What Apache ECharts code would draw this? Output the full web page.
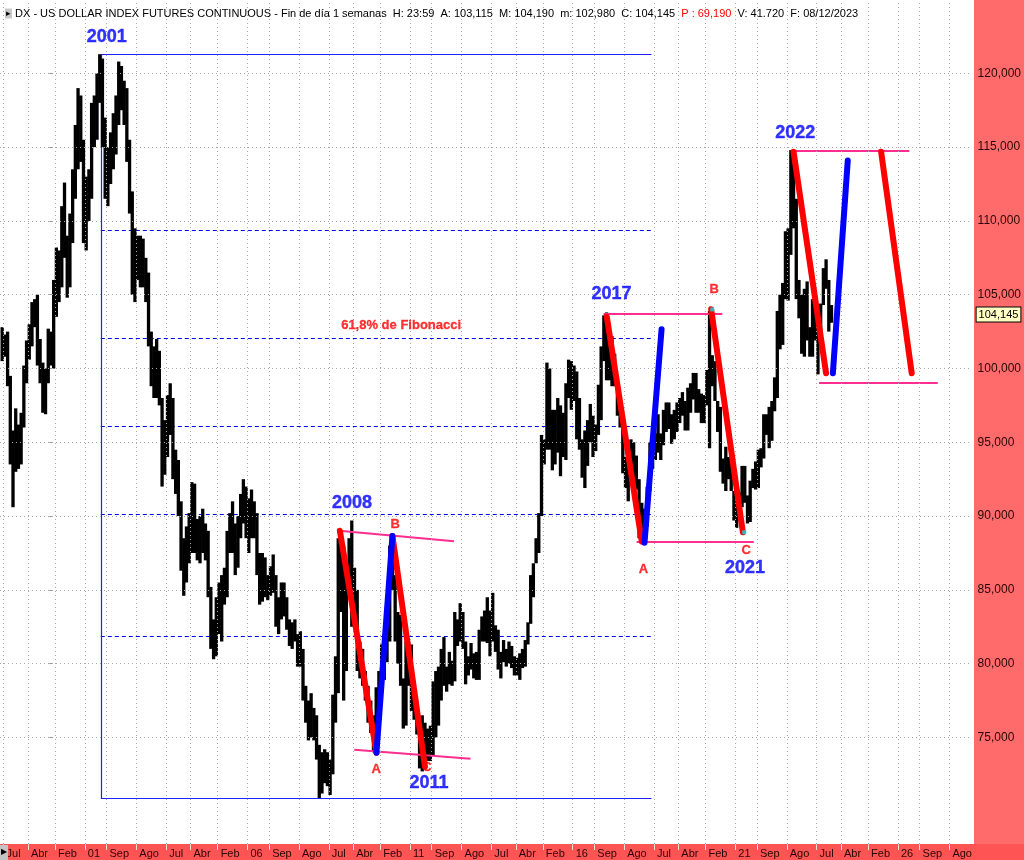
<!DOCTYPE html>
<html>
<head>
<meta charset="utf-8">
<title>DX - US Dollar Index</title>
<script src="https://cdn.jsdelivr.net/npm/echarts@6.0.0/dist/echarts.min.js"></script>
<style>
  html, body { margin: 0; padding: 0; background: #fff; }
  #chart { width: 1024px; height: 860px; }
</style>
</head>
<body>
<div id="chart"></div>
<script>
  // meses contados desde ene-2000 (ene-2001 = 12)
  const START_MONTH = -19; // jun-1998
  const FONT = "'Liberation Sans', Arial, sans-serif";

  // [mínimo, máximo] mensual
  const y1998 = [[100.5,102.8],[100.8,102.3],[98.8,102.5],[93.5,99.5],[90.6,95.8],[93.0,97.3],[93.2,96.2]];
  const y1999 = [[93.5,97.0],[96.0,100.2],[99.0,101.9],[100.6,103.0],[101.5,104.5],[102.8,104.7],[100.2,105.0],[99.0,102.0],[97.0,100.4],[96.9,100.0],[99.0,102.7],[100.2,102.5]];
  const y2000 = [[100.0,106.0],[103.5,108.2],[104.5,108.0],[105.5,111.0],[107.5,112.6],[104.8,109.0],[105.5,110.5],[108.5,113.5],[111.5,116.5],[113.5,119.0],[114.0,118.5],[108.5,115.5]];
  const y2001 = [[108.0,113.0],[110.0,113.5],[111.5,118.0],[115.0,118.5],[115.5,120.0],[118.0,121.3],[115.0,121.0],[111.5,117.0],[111.0,115.0],[112.5,116.0],[113.5,117.3],[114.5,118.5]];
  const y2002 = [[116.5,120.8],[117.5,120.5],[116.5,119.5],[114.0,119.0],[110.5,115.5],[105.0,112.0],[104.5,109.5],[106.0,109.0],[105.5,109.0],[105.5,108.8],[104.5,107.5],[101.5,106.5]];
  const y2003 = [[98.8,102.5],[98.0,101.5],[98.0,102.0],[97.5,101.2],[92.0,98.0],[92.8,96.5],[94.0,98.2],[95.5,99.0],[92.5,98.0],[91.5,94.5],[90.0,93.8],[86.3,91.0]];
  const y2004 = [[84.6,88.5],[85.5,89.3],[86.8,90.2],[87.5,92.3],[87.5,92.2],[87.0,89.8],[86.8,90.0],[87.5,90.5],[87.0,89.5],[84.5,89.0],[81.0,85.2],[80.3,83.0]];
  const y2005 = [[80.5,84.5],[82.0,85.5],[81.5,86.0],[84.0,86.5],[84.5,89.0],[87.5,90.2],[87.5,91.0],[86.0,89.5],[86.5,90.0],[88.5,91.5],[89.5,92.5],[88.5,92.0]];
  const y2006 = [[87.5,91.2],[88.5,91.8],[88.5,91.0],[86.0,90.2],[84.0,87.5],[84.2,87.5],[84.5,87.2],[84.3,86.0],[84.6,86.6],[84.8,87.4],[82.5,86.0],[82.0,84.5]];
  const y2007 = [[83.0,85.5],[83.2,85.5],[82.3,84.5],[81.2,83.0],[81.0,82.8],[81.5,83.0],[79.8,82.0],[79.8,82.2],[77.5,81.0],[76.0,78.5],[74.8,77.5],[75.0,78.0]];
  const y2008 = [[74.8,77.0],[73.5,76.5],[70.9,74.5],[71.2,74.0],[71.9,74.2],[71.7,74.0],[71.1,73.5],[72.5,77.9],[76.0,80.5],[78.0,88.5],[83.5,89.0],[77.5,88.0]];
  const y2009 = [[79.5,86.5],[84.5,88.5],[82.5,89.7],[82.5,86.5],[79.5,85.0],[79.0,81.5],[78.5,81.0],[77.5,79.5],[76.0,78.5],[75.3,77.5],[74.0,76.5],[74.5,78.4]];
  const y2010 = [[76.5,79.5],[78.8,81.3],[78.9,82.0],[80.1,83.0],[81.5,88.0],[85.0,88.8],[81.5,86.0],[80.0,83.5],[78.5,83.3],[75.6,79.0],[75.8,81.5],[78.5,81.5]];
  const y2011 = [[76.8,81.3],[76.2,78.5],[75.2,77.5],[72.9,76.2],[72.7,76.5],[73.5,76.0],[73.4,75.6],[73.4,75.8],[73.8,78.8],[75.0,79.5],[75.8,79.8],[77.5,81.0]];
  const y2012 = [[78.5,81.8],[78.1,79.8],[78.6,80.8],[78.5,80.2],[78.8,83.5],[81.2,83.0],[81.5,84.1],[81.0,83.5],[78.6,81.5],[79.2,80.5],[79.6,81.4],[79.0,80.7]];
  const y2013 = [[78.9,80.8],[78.9,82.3],[81.5,83.2],[81.5,83.6],[81.4,84.5],[80.5,83.6],[81.5,84.8],[80.8,82.6],[79.6,82.3],[79.0,80.8],[80.1,81.6],[79.8,81.0]];
  const y2014 = [[80.0,81.5],[79.7,81.2],[79.2,80.5],[79.2,80.4],[78.9,80.7],[79.7,81.0],[79.8,81.6],[81.3,82.8],[82.7,86.0],[84.5,86.8],[86.8,88.5],[87.5,90.2]];
  const y2015 = [[90.0,95.5],[93.5,95.2],[94.5,100.4],[94.5,100.0],[93.1,97.2],[93.5,97.2],[94.3,98.0],[92.7,97.5],[94.0,97.0],[93.8,99.0],[98.0,100.6],[97.2,100.5]];
  const y2016 = [[97.8,100.2],[95.2,99.8],[94.5,98.0],[92.6,95.2],[91.9,95.8],[93.4,96.5],[95.0,97.6],[94.0,96.8],[94.4,96.2],[95.5,98.9],[96.5,101.5],[100.5,103.6]];
  const y2017 = [[99.2,103.8],[99.2,101.7],[98.8,102.2],[98.8,101.0],[96.8,99.5],[96.0,97.9],[92.9,96.4],[91.9,94.0],[91.0,94.0],[92.8,95.2],[92.5,95.0],[91.8,94.1]];
  const y2018 = [[88.5,92.5],[88.3,90.9],[88.9,90.5],[89.3,92.0],[91.7,95.0],[93.2,95.5],[93.8,95.6],[94.3,96.9],[93.8,95.6],[94.8,97.2],[95.7,97.7],[95.9,97.7]];
  const y2019 = [[94.9,96.9],[95.2,97.2],[95.7,97.7],[96.3,98.0],[96.8,98.4],[95.8,97.8],[95.8,98.7],[97.0,99.0],[97.9,99.7],[97.0,99.7],[97.0,98.6],[96.3,98.3]];
  const y2020 = [[96.3,98.2],[97.5,99.9],[94.6,103.9],[98.8,100.9],[97.8,100.5],[95.7,97.8],[93.0,97.4],[92.2,93.9],[91.7,94.7],[92.5,94.0],[91.7,94.3],[89.7,91.7]];
  const y2021 = [[89.2,91.0],[89.7,91.6],[90.6,93.4],[90.9,93.4],[89.5,91.4],[89.6,92.4],[91.9,93.2],[91.8,93.7],[91.9,94.5],[93.3,94.6],[93.9,96.9],[95.5,96.9]];
  const y2022 = [[94.6,97.4],[95.1,97.8],[97.1,99.4],[98.0,103.9],[101.3,105.0],[101.6,105.8],[104.7,109.3],[104.6,109.5],[107.7,114.8],[109.5,113.9],[104.7,111.5],[103.4,106.0]];
  const y2023 = [[101.0,105.0],[100.8,105.4],[101.9,105.9],[100.8,102.8],[100.8,104.7],[101.9,104.5],[99.6,103.6],[101.7,104.4],[104.3,106.8],[105.4,107.4],[102.5,106.0],[103.1,104.3]];

  const priceYears = [y1998, y1999, y2000, y2001, y2002, y2003, y2004, y2005, y2006, y2007, y2008,
    y2009, y2010, y2011, y2012, y2013, y2014, y2015, y2016, y2017, y2018, y2019, y2020, y2021, y2022, y2023];
  const lastPrice = 104.145;

  // etiquetas del eje de tiempo [mes, texto]
  const xTicks = [[-18,'Jul'],[-9,'Abr'],[1,'Feb'],[12,'01'],[20,'Sep'],[31,'Ago'],[42,'Jul'],[51,'Abr'],[61,'Feb'],
    [72,'06'],[80,'Sep'],[91,'Ago'],[102,'Jul'],[111,'Abr'],[121,'Feb'],[132,'11'],[140,'Sep'],[151,'Ago'],
    [162,'Jul'],[171,'Abr'],[181,'Feb'],[192,'16'],[200,'Sep'],[211,'Ago'],[222,'Jul'],[231,'Abr'],[241,'Feb'],
    [252,'21'],[260,'Sep'],[271,'Ago'],[282,'Jul'],[291,'Abr'],[301,'Feb'],[312,'26'],[320,'Sep'],[331,'Ago']];
  const priceTicks = [75, 80, 85, 90, 95, 100, 105, 110, 115, 120];

  // caja azul 2001-2008 y niveles de Fibonacci
  const boxStart = 17.9, boxEnd = 221.1;
  const boxTop = 121.31, boxBottom = 70.9;
  const fibLevels = [109.37, 102.05, 96.08, 90.12, 81.86];

  // líneas rosas (canales), ondas rojas y azules
  const pinkLines = [
    [[105.85, 89.01], [148.2, 88.29]],
    [[111.4, 74.16], [154.3, 73.55]],
    [[203.4, 103.74], [247.2, 103.74]],
    [[215.6, 88.27], [258.8, 88.27]],
    [[272.7, 114.76], [316.2, 114.76]],
    [[282.9, 99.04], [326.7, 99.04]]
  ];
  const redWaves = [
    [[106.1, 89.01], [119.6, 73.96]],
    [[125.5, 88.65], [137.5, 73.02]],
    [[204.6, 103.51], [217.5, 88.27]],
    [[243.1, 104.01], [254.8, 88.9]],
    [[273.5, 114.69], [285.5, 99.68]],
    [[305.8, 114.69], [317.1, 99.68]]
  ];
  const blueWaves = [
    [[119.6, 73.96], [125.5, 88.65]],
    [[218.5, 88.2], [224.8, 102.66]],
    [[288.0, 99.68], [293.5, 114.1]]
  ];
  const cyanMarks = [[243.5, 104.0], [255.3, 88.9]];

  const yearLabels = [['2001', 20.1, 122.46], ['2008', 110.6, 90.89], ['2011', 139.0, 71.92],
    ['2017', 206.3, 105.05], ['2021', 255.6, 86.45], ['2022', 274.1, 115.96]];
  const waveLabels = [['B', 126.5, 89.41], ['A', 119.5, 72.81], ['C', 138.2, 72.94],
    ['A', 218.1, 86.36], ['B', 244.2, 105.39], ['C', 256.0, 87.64]];
  const fibText = ['61,8% de Fibonacci', 128.7, 102.95];

  let priceBars = [];
  let month = START_MONTH;
  priceYears.forEach((yr) => {
    yr.forEach((hl) => {
      priceBars.push([month + 0.5, hl[0], hl[1]]);
      month++;
    });
  });

  const tickText = {};
  xTicks.forEach((t) => { tickText[t[0]] = t[1]; });
  const fmtPrice = (v) => v.toFixed(3).replace('.', ',');

  const boxLines = [
    [[boxStart, boxTop], [boxEnd, boxTop]],
    [[boxStart, boxBottom], [boxEnd, boxBottom]],
    [[boxStart, boxTop], [boxStart, boxBottom]]
  ];
  const fibLines = fibLevels.map((v) => [[boxStart, v], [boxEnd, v]]);

  const toLabel = (list) => list.map((l) => ({ name: l[0], value: [l[1], l[2]] }));
  const segSeries = (segs, z, lineStyle) => ({
    type: 'lines',
    coordinateSystem: 'cartesian2d',
    z: z,
    silent: true,
    lineStyle: Object.assign({ opacity: 1 }, lineStyle),
    data: segs.map((c) => ({ coords: c }))
  });

  const chart = echarts.init(document.getElementById('chart'));
  const option = {
    animation: false,
    textStyle: { fontFamily: FONT },
    title: {
      text: '{tri|▸} DX - US DOLLAR INDEX FUTURES CONTINUOUS - Fin de día 1 semanas  H: 23:59  A: 103,115  M: 104,190  m: 102,980  C: 104,145  {red|P : 69,190}  V: 41.720  F: 08/12/2023',
      left: 0,
      top: 3,
      textStyle: {
        fontSize: 11,
        fontWeight: 'normal',
        color: '#000',
        fontFamily: FONT,
        rich: {
          tri: { fontSize: 9, color: '#000', backgroundColor: '#c8c8c8', padding: [1, 1, 0, 1] },
          red: { fontSize: 11, color: '#ff0000' }
        }
      }
    },
    graphic: {
      elements: [
        { type: 'rect', z: -10, shape: { x: 974, y: 0, width: 50, height: 860 }, style: { fill: '#ff6b6b' } },
        { type: 'rect', z: -10, shape: { x: 0, y: 844, width: 1024, height: 16 }, style: { fill: '#ff5454' } },
        { type: 'rect', z: 10, shape: { x: 0, y: 845, width: 8, height: 15 }, style: { fill: '#c4c4c4' } },
        { type: 'text', z: 11, x: 1, y: 848, style: { text: '▶', fontSize: 8, fill: '#000' } }
      ]
    },
    grid: { left: 0, right: 50, top: 0, bottom: 16, containLabel: false },
    xAxis: {
      type: 'value',
      min: -19.3,
      max: 339.2,
      axisLine: { show: false },
      splitLine: { show: false },
      axisTick: {
        show: true,
        customValues: xTicks.map((t) => t[0]),
        length: 6,
        lineStyle: { color: '#ffd9d9' }
      },
      axisLabel: {
        customValues: xTicks.map((t) => t[0]),
        formatter: (v) => tickText[v] || '',
        align: 'left',
        margin: 4,
        padding: [0, 0, 0, 3],
        fontSize: 11,
        color: '#2a0505',
        fontFamily: FONT
      }
    },
    yAxis: {
      type: 'value',
      position: 'right',
      min: 67.78,
      max: 124.97,
      axisLine: { show: false },
      splitLine: { show: false },
      axisTick: {
        show: true,
        inside: true,
        length: 3,
        customValues: priceTicks,
        lineStyle: { color: '#999' }
      },
      axisLabel: {
        customValues: priceTicks,
        formatter: fmtPrice,
        margin: 6,
        fontSize: 12,
        color: '#2a0505',
        fontFamily: FONT
      }
    },
    series: [
      {
        // cuadrícula punteada
        type: 'line',
        data: [],
        z: 1,
        silent: true,
        markLine: {
          silent: true,
          symbol: ['none', 'none'],
          label: { show: false },
          lineStyle: { color: '#a8a8a8', type: [1, 3], width: 1 },
          data: xTicks.map((t) => ({ xAxis: t[0] })).concat(priceTicks.map((v) => ({ yAxis: v })))
        }
      },
      segSeries(fibLines, 2, { color: '#0000ff', width: 1, type: [4, 3] }),
      segSeries(boxLines, 2, { color: '#2020ff', width: 1.2 }),
      {
        name: 'DX',
        type: 'custom',
        z: 3,
        clip: true,
        data: priceBars,
        encode: { x: 0, y: [1, 2] },
        renderItem: (params, api) => {
          const top = api.coord([api.value(0), api.value(2)]);
          const bot = api.coord([api.value(0), api.value(1)]);
          const w = api.size([1, 0])[0] + 0.6;
          return {
            type: 'rect',
            shape: { x: top[0] - w / 2, y: top[1], width: w, height: Math.max(1, bot[1] - top[1]) },
            style: { fill: '#000' }
          };
        }
      },
      {
        // último precio en el eje
        type: 'line',
        data: [],
        z: 9,
        silent: true,
        markLine: {
          silent: true,
          symbol: ['none', 'none'],
          lineStyle: { color: 'rgba(0,0,0,0)', width: 1 },
          label: {
            show: true,
            position: 'end',
            distance: 5,
            verticalAlign: 'top',
            formatter: fmtPrice(lastPrice),
            color: '#000',
            fontSize: 11,
            backgroundColor: '#ffffc4',
            borderColor: '#000',
            borderWidth: 1,
            padding: [2, 2, 1, 2]
          },
          data: [{ yAxis: lastPrice }]
        }
      },
      segSeries(pinkLines, 4, { color: '#ff2d8f', width: 2 }),
      segSeries(redWaves, 5, { color: '#ff0000', width: 6, cap: 'round' }),
      segSeries(blueWaves, 6, { color: '#0000ff', width: 6, cap: 'round' }),
      {
        type: 'scatter',
        z: 7,
        silent: true,
        symbol: 'rect',
        symbolSize: 4,
        itemStyle: { color: '#00e5e5' },
        data: cyanMarks
      },
      {
        type: 'scatter',
        z: 8,
        silent: true,
        symbolSize: 0,
        data: toLabel(yearLabels),
        label: {
          show: true,
          position: 'inside',
          formatter: (p) => p.name,
          fontSize: 18,
          fontWeight: 'bold',
          color: '#0000ff',
          textBorderColor: '#0000ff',
          textBorderWidth: 0.4,
          fontFamily: FONT
        }
      },
      {
        type: 'scatter',
        z: 8,
        silent: true,
        symbolSize: 0,
        data: toLabel(waveLabels).concat(toLabel([fibText])),
        label: {
          show: true,
          position: 'inside',
          formatter: (p) => p.name,
          fontSize: 13,
          fontWeight: 'bold',
          color: '#ff0000',
          textBorderColor: '#ff0000',
          textBorderWidth: 0.3,
          fontFamily: FONT
        }
      }
    ]
  };
  chart.setOption(option);
</script>
</body>
</html>
